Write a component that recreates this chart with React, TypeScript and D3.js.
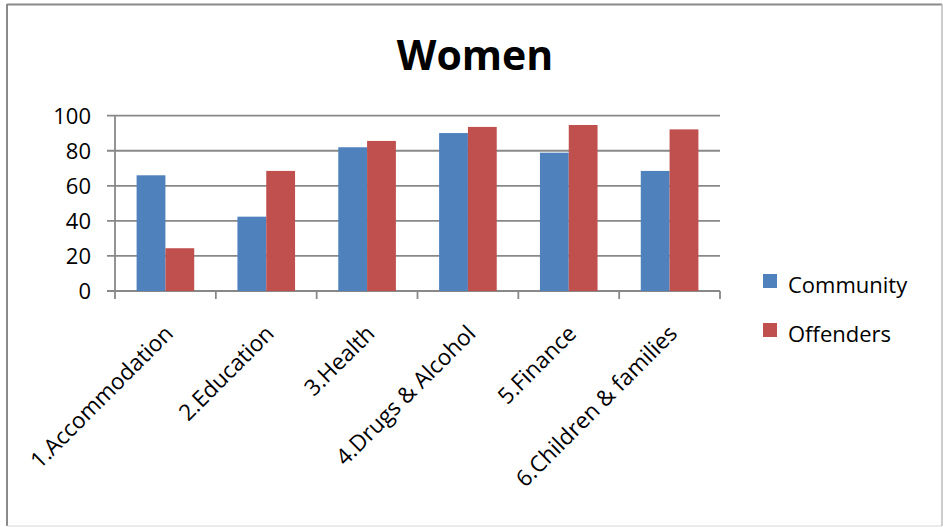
import React from "react";
import * as d3 from "d3";

const categories = [
  "1.Accommodation",
  "2.Education",
  "3.Health",
  "4.Drugs & Alcohol",
  "5.Finance",
  "6.Children & families",
];
const seriesNames = ["Community", "Offenders"];
const community = [66, 42.4, 82, 90.1, 78.9, 68.5];
const offenders = [24.4, 68.5, 85.6, 93.6, 94.7, 92.2];
const yTicks = [0, 20, 40, 60, 80, 100];
const colors = ["#4F81BD", "#C0504D"];

const W = 943;
const H = 527;
const plot = { left: 115, right: 720, top: 115.7, bottom: 291 };
const FONT = "'Open Sans', sans-serif";

export default function App() {
  const x = d3
    .scaleBand<string>()
    .domain(categories)
    .range([plot.left, plot.right])
    .paddingInner(0)
    .paddingOuter(0);
  const step = x.step();
  // gap width 150%: two bars + 1.5 bar widths of gap per category
  const barW = step / 3.5;
  const y = d3.scaleLinear().domain([0, 100]).range([plot.bottom, plot.top]);
  const series = [community, offenders];

  return (
    <svg
      width={W}
      height={H}
      style={{ position: "absolute", left: 0, top: 0, background: "#fff" }}
      fontFamily={FONT}
    >
      <rect x={0} y={0} width={W} height={H} fill="#fff" />
      {/* chart frame */}
      <line x1={7} y1={4} x2={7} y2={526} stroke="#8a8a8a" strokeWidth={2} />
      <line x1={7} y1={4.5} x2={942} y2={4.5} stroke="#8a8a8a" strokeWidth={2} />
      <line x1={942} y1={4} x2={942} y2={526} stroke="#bdbdbd" strokeWidth={1.5} />
      <line x1={7} y1={526} x2={942} y2={526} stroke="#d6d6d6" strokeWidth={1} />

      <text
        x={475}
        y={70}
        textAnchor="middle"
        fontSize={41}
        fontWeight="bold"
        fill="#000"
      >
        Women
      </text>

      {/* gridlines and value axis */}
      {yTicks.map((t) => (
        <g key={t}>
          <line
            x1={plot.left - 8}
            x2={plot.right}
            y1={y(t)}
            y2={y(t)}
            stroke="#888"
            strokeWidth={1.8}
          />
          <text
            x={plot.left - 24}
            y={y(t)}
            dy="0.36em"
            textAnchor="end"
            fontSize={22}
            fill="#000"
          >
            {t}
          </text>
        </g>
      ))}
      <line
        x1={plot.left}
        x2={plot.left}
        y1={y(100)}
        y2={plot.bottom}
        stroke="#888"
        strokeWidth={1.8}
      />

      {/* bars */}
      {series.map((vals, si) =>
        vals.map((v, i) => {
          const x0 = (x(categories[i]) as number) + barW * 0.75 + si * barW;
          return (
            <rect
              key={`${si}-${i}`}
              x={x0}
              y={y(v)}
              width={barW}
              height={y(0) - y(v)}
              fill={colors[si]}
            />
          );
        })
      )}

      {/* category axis ticks */}
      {d3.range(categories.length + 1).map((k) => (
        <line
          key={k}
          x1={plot.left + k * step}
          x2={plot.left + k * step}
          y1={plot.bottom}
          y2={plot.bottom + 8}
          stroke="#888"
          strokeWidth={1.8}
        />
      ))}
      {categories.map((c) => {
        const cx = (x(c) as number) + step / 2;
        return (
          <text
            key={c}
            transform={`translate(${cx + 9},${plot.bottom + 44}) rotate(-45)`}
            textAnchor="end"
            fontSize={22.5}
            fill="#000"
          >
            {c}
          </text>
        );
      })}

      {/* legend */}
      {seriesNames.map((s, i) => (
        <g key={s} transform={`translate(763,${274 + i * 49})`}>
          <rect x={0} y={0} width={14} height={14} fill={colors[i]} />
          <text x={25} y={19} fontSize={22} fill="#000">
            {s}
          </text>
        </g>
      ))}
    </svg>
  );
}
